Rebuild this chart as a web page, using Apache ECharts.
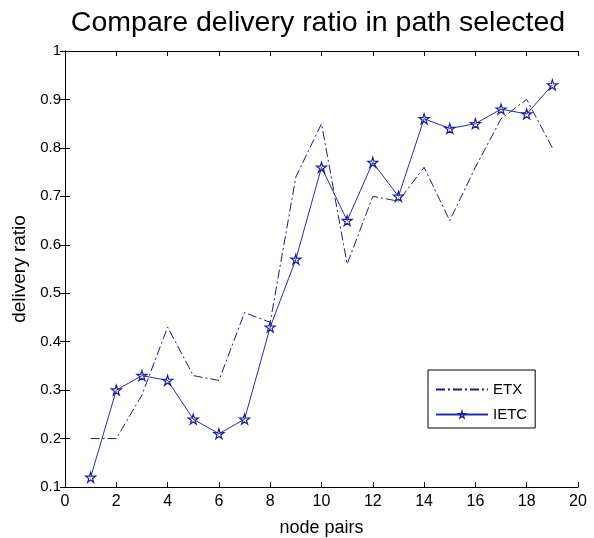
<!DOCTYPE html>
<html>
<head>
<meta charset="utf-8">
<script src="https://cdn.jsdelivr.net/npm/echarts@6/dist/echarts.min.js"></script>
<style>
  html, body { margin: 0; padding: 0; background: #fff; }
  #main { width: 594px; height: 538px; }
</style>
</head>
<body>
<div id="main"></div>
<script>
var nodePairs = [1, 2, 3, 4, 5, 6, 7, 8, 9, 10, 11, 12, 13, 14, 15, 16, 17, 18, 19];
var etx  = [0.20, 0.20, 0.29, 0.43, 0.33, 0.32, 0.46, 0.44, 0.74, 0.85, 0.56, 0.70, 0.69, 0.76, 0.65, 0.76, 0.86, 0.90, 0.80];
var ietc = [0.12, 0.30, 0.33, 0.32, 0.24, 0.21, 0.24, 0.43, 0.57, 0.76, 0.65, 0.77, 0.70, 0.86, 0.84, 0.85, 0.88, 0.87, 0.93];

var star = 'path://M50,0 L61,35 L98,35 L68,57 L79,91 L50,70 L21,91 L32,57 L2,35 L39,35 Z';
var font = 'Liberation Sans, Arial, sans-serif';
var starStyle = { color: 'rgba(0,0,0,0)', borderColor: '#1e1e9a', borderWidth: 1.2 };

function pairs(ys) {
    return nodePairs.map(function (x, i) { return [x, ys[i]]; });
}

var tickStyle = { show: true, inside: true, length: 5, lineStyle: { color: '#000', width: 1 } };
var lineStyleAxis = { show: true, lineStyle: { color: '#000', width: 1 } };

var myChart = echarts.init(document.getElementById('main'));
var option = {
    animation: false,
    backgroundColor: '#fff',
    title: {
        text: 'Compare delivery ratio in path selected',
        left: 313,
        textAlign: 'center',
        top: 4,
        textStyle: { fontFamily: font, fontSize: 28.5, fontWeight: 'normal', color: '#000' }
    },
    legend: {
        orient: 'vertical',
        left: 428,
        top: 370,
        padding: [12, 8, 6, 7],
        itemWidth: 52,
        itemHeight: 9,
        itemGap: 10,
        borderColor: '#000',
        borderWidth: 1,
        backgroundColor: '#fff',
        textStyle: { fontFamily: font, fontSize: 15, color: '#000', lineHeight: 14 },
        data: [{ name: 'ETX', itemStyle: { opacity: 0 } }, { name: 'IETC', itemStyle: starStyle }]
    },
    grid: { left: 65, right: 16, top: 51, bottom: 51, outerBoundsMode: 'none' },
    xAxis: [{
        type: 'value', min: 0, max: 20, interval: 2,
        name: 'node pairs', nameLocation: 'middle', nameGap: 32,
        nameTextStyle: { fontFamily: font, fontSize: 18, color: '#000' },
        axisLine: lineStyleAxis, axisTick: tickStyle,
        axisLabel: { fontFamily: font, fontSize: 16, color: '#000', margin: 7 },
        splitLine: { show: false }
    }, {
        type: 'value', min: 0, max: 20, interval: 2, position: 'top',
        axisLine: lineStyleAxis, axisTick: tickStyle,
        axisLabel: { show: false }, splitLine: { show: false }
    }],
    yAxis: [{
        type: 'value', min: 0.1, max: 1, interval: 0.1,
        name: 'delivery ratio', nameLocation: 'middle', nameGap: 28,
        nameTextStyle: { fontFamily: font, fontSize: 19, color: '#000' },
        axisLine: lineStyleAxis, axisTick: tickStyle,
        axisLabel: {
            fontFamily: font, fontSize: 15, color: '#000', margin: 4,
            formatter: function (v) { return String(+v.toFixed(1)); }
        },
        splitLine: { show: false }
    }, {
        type: 'value', min: 0.1, max: 1, interval: 0.1, position: 'right',
        axisLine: lineStyleAxis, axisTick: tickStyle,
        axisLabel: { show: false }, splitLine: { show: false }
    }],
    series: [{
        name: 'ETX',
        type: 'line',
        data: pairs(etx),
        showSymbol: false,
        symbol: 'none',
        itemStyle: { color: '#1e1e78' },
        lineStyle: { color: '#1e1e78', width: 1, type: [9, 3, 2, 3] }
    }, {
        name: 'IETC',
        type: 'line',
        data: pairs(ietc),
        symbol: star,
        symbolSize: 10,
        itemStyle: starStyle,
        lineStyle: { color: '#2a2ab8', width: 1 }
    }]
};
myChart.setOption(option);
window.addEventListener('resize', function () {
    myChart.resize();
});
</script>
</body>
</html>
